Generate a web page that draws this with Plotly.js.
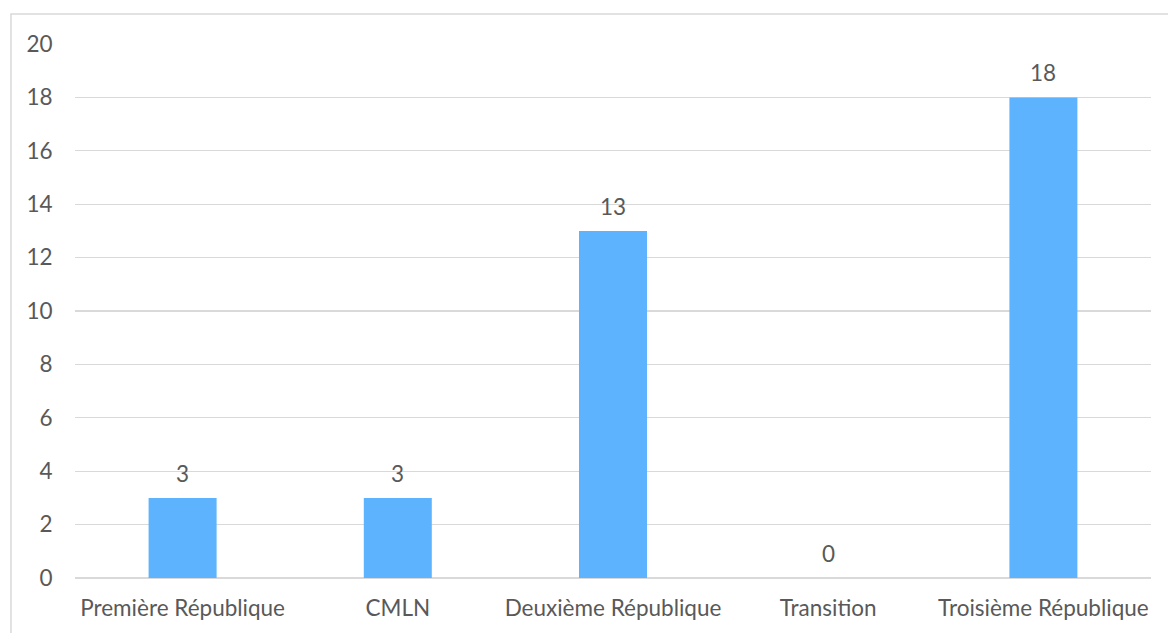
<!DOCTYPE html>
<html><head><meta charset="utf-8">
<script src="https://cdn.plot.ly/plotly-3.0.1.min.js"></script>
<style>html,body{margin:0;padding:0;background:#fff;}#chart{width:1168px;height:633px;}</style>
</head><body><div id="chart"></div>
<script>
const categories = ["Première République", "CMLN", "Deuxième République", "Transition", "Troisième République"];
const values = [3, 3, 13, 0, 18];
const yTicks = [0, 2, 4, 6, 8, 10, 12, 14, 16, 18, 20];

const font = {family: "Lato, 'Open Sans', sans-serif", size: 22.5, color: "#595959"};

const trace = {
  type: "bar", x: categories, y: values,
  marker: {color: "#5EB3FF"}, hoverinfo: "none"
};

const annotations = categories.map((c, i) => ({
  x: c, y: values[i], xref: "x", yref: "y", text: String(values[i]),
  showarrow: false, yanchor: "bottom", yshift: 9, font: font
}));

const layout = {
  width: 1168, height: 633,
  margin: {l: 75, r: 17, t: 44, b: 55},
  paper_bgcolor: "#fff", plot_bgcolor: "#fff",
  bargap: 0.684, showlegend: false, font: font,
  xaxis: {type: "category", showgrid: false, ticks: "outside", ticklen: 10, tickcolor: "rgba(0,0,0,0)",
          tickfont: font, showline: false, zeroline: false, fixedrange: true},
  yaxis: {range: [0, 20], tickvals: yTicks, ticktext: yTicks.map(String), showgrid: true, gridcolor: "#D9D9D9", gridwidth: 1.3,
          zeroline: true, zerolinecolor: "#D9D9D9", zerolinewidth: 1.3, showline: false,
          ticks: "outside", ticklen: 17, tickcolor: "rgba(0,0,0,0)", tickfont: font, fixedrange: true},
  annotations: annotations,
  shapes: [{type: "rect", xref: "paper", yref: "paper", x0: -0.0595, x1: 1.2, y0: -0.3, y1: 1.0562,
            line: {color: "#D9D9D9", width: 1.5}, fillcolor: "rgba(0,0,0,0)", layer: "below"}]
};

Plotly.newPlot("chart", [trace], layout, {staticPlot: true, displayModeBar: false});
</script></body></html>
